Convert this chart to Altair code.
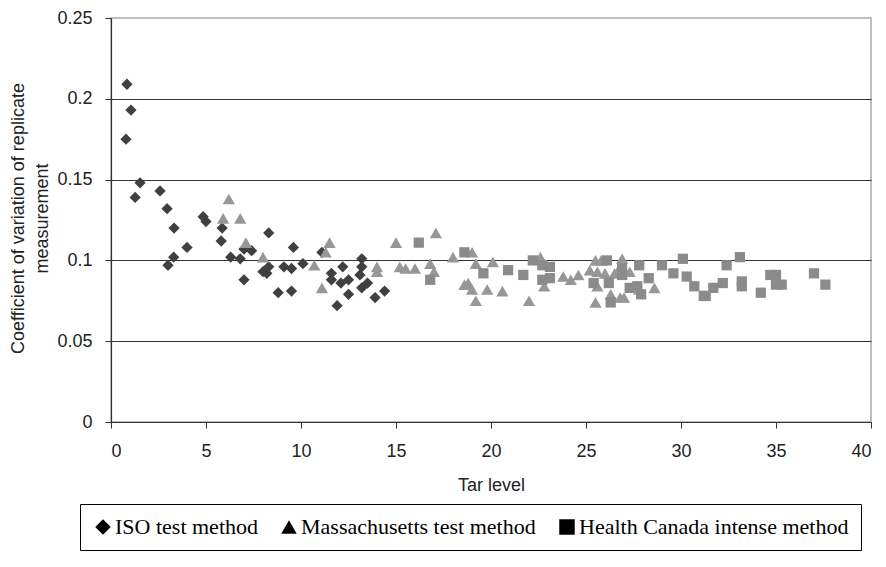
import altair as alt
import pandas as pd

series_names = ["ISO test method", "Massachusetts test method", "Health Canada intense method"]

iso_x = [0.84, 1.05, 0.79, 1.53, 1.27, 2.58, 2.95, 3.32, 3.0, 3.3, 4.0, 4.85, 5.0, 5.85, 5.8,
         6.3, 6.8, 7.0, 7.4, 7.0, 8.3, 8.0, 8.2, 8.3, 8.8, 9.1, 9.5, 9.5, 9.6, 10.1, 11.1,
         11.6, 11.6, 11.9, 12.1, 12.2, 12.5, 12.5, 13.2, 13.1, 13.2, 13.5, 13.9, 14.4, 13.2]
iso_y = [0.209, 0.193, 0.175, 0.148, 0.139, 0.143, 0.132, 0.120, 0.097, 0.102, 0.108, 0.127, 0.124, 0.120, 0.112,
         0.102, 0.101, 0.107, 0.106, 0.088, 0.117, 0.093, 0.092, 0.096, 0.080, 0.096, 0.095, 0.081, 0.108, 0.098, 0.105,
         0.092, 0.088, 0.072, 0.086, 0.096, 0.088, 0.079, 0.101, 0.091, 0.083, 0.086, 0.077, 0.081, 0.096]

mass_x = [6.2, 5.9, 6.8, 7.1, 8.0, 11.5, 11.3, 10.7, 11.1, 14.0, 14.0, 15.0, 15.2, 15.5, 16.0,
          16.8, 17.0, 17.1, 18.0, 19.0, 19.2, 20.1, 18.6, 18.8, 19.0, 19.2, 19.8, 20.6, 22.0, 22.6,
          22.8, 23.8, 24.2, 24.6, 25.2, 25.5, 25.5, 25.8, 26.9, 25.6, 26.0, 26.5, 26.8, 27.3, 25.6,
          26.3, 26.8, 27.0, 28.6, 27.8]
mass_y = [0.138, 0.126, 0.126, 0.111, 0.102, 0.111, 0.105, 0.097, 0.083, 0.096, 0.093, 0.111, 0.096, 0.095, 0.095,
          0.098, 0.093, 0.117, 0.102, 0.105, 0.098, 0.099, 0.085, 0.086, 0.082, 0.075, 0.082, 0.081, 0.075, 0.102,
          0.084, 0.090, 0.088, 0.091, 0.094, 0.100, 0.074, 0.100, 0.101, 0.093, 0.092, 0.092, 0.096, 0.093, 0.084,
          0.079, 0.077, 0.077, 0.083, 0.082]

hc_x = [16.2, 16.8, 18.6, 19.6, 20.9, 21.7, 22.2, 22.7, 23.1, 22.7, 23.1, 25.4, 26.1, 26.2, 26.3,
        26.9, 26.9, 27.3, 27.7, 27.9, 27.8, 28.3, 29.0, 29.6, 30.1, 30.3, 30.7, 31.2, 31.3, 31.7,
        32.2, 32.4, 33.1, 33.2, 33.2, 34.2, 34.7, 35.0, 35.0, 35.3, 37.0, 37.6]
hc_y = [0.111, 0.088, 0.105, 0.092, 0.094, 0.091, 0.100, 0.097, 0.096, 0.088, 0.089, 0.086, 0.100, 0.086, 0.074,
        0.095, 0.091, 0.083, 0.084, 0.079, 0.097, 0.089, 0.097, 0.092, 0.101, 0.090, 0.084, 0.078, 0.078, 0.083,
        0.086, 0.097, 0.102, 0.087, 0.084, 0.080, 0.091, 0.091, 0.085, 0.085, 0.092, 0.085]

x_ticks = [0, 5, 10, 15, 20, 25, 30, 35, 40]
y_ticks = [0, 0.05, 0.1, 0.15, 0.2, 0.25]

# colours / sizes listed in the data-driven (alphabetical) order of the series field:
# Health Canada, ISO, Massachusetts
series_colors = ["#8b8b8b", "#404040", "#979797"]
series_sizes = [105, 150, 175]

rows = []
for name, xs, ys in zip(series_names, [iso_x, mass_x, hc_x], [iso_y, mass_y, hc_y]):
    rows += [{"series": name, "method": name, "tar": a, "cv": b} for a, b in zip(xs, ys)]
df = pd.DataFrame(rows)

FONT = "Liberation Sans"

chart = alt.Chart(df).mark_point(filled=True, opacity=1, strokeWidth=0).encode(
    x=alt.X("tar:Q", scale=alt.Scale(domain=[0, 40], nice=False),
            axis=alt.Axis(values=x_ticks, format="d", title="Tar level", grid=False,
                          labelPadding=14, titlePadding=16)),
    y=alt.Y("cv:Q", scale=alt.Scale(domain=[0, 0.25], nice=False),
            axis=alt.Axis(values=y_ticks, format=".2~f",
                          title=["Coefficient of variation of replicate", "measurement"],
                          titleX=-102, titleY=200, titleBaseline="top", titleAlign="center",
                          titleAngle=-90, titleLineHeight=24, labelPadding=13,
                          gridOpacity={"condition": {"test": "datum.value >= 0.25", "value": 0}, "value": 1})),
    color=alt.Color("series:N", scale=alt.Scale(range=series_colors), legend=None),
    size=alt.Size("series:N", scale=alt.Scale(range=series_sizes), legend=None),
    shape=alt.Shape("method:N", scale=alt.Scale(domain=series_names, range=["diamond", "triangle-up", "square"]),
                    legend=alt.Legend(title=None, orient="none", legendX=-31, legendY=486,
                                      direction="horizontal", columns=3, strokeColor="black",
                                      padding=12, labelFont="Liberation Serif", labelFontSize=22,
                                      labelColor="black", labelLimit=500, labelOffset=1,
                                      columnPadding=20, symbolSize=240, symbolFillColor="black",
                                      symbolStrokeColor="black", symbolStrokeWidth=0)),
).properties(
    width=760, height=404,
    autosize=alt.AutoSizeParams(type="none"),
    padding={"left": 103, "top": 10, "right": 3, "bottom": 134},
    background="white",
).configure_view(
    stroke="#a8a8a8", strokeWidth=1.5
).configure_axis(
    labelFont=FONT, titleFont=FONT, labelFontSize=18, titleFontSize=18,
    labelColor="#222", titleColor="#222", titleFontWeight="normal",
    domainColor="#333", domainWidth=1.2, tickColor="#333", tickSize=6, tickWidth=1,
    gridColor="#333", gridWidth=1.2,
)

chart.save("out.html", embed_options={"renderer": "svg", "actions": False})
